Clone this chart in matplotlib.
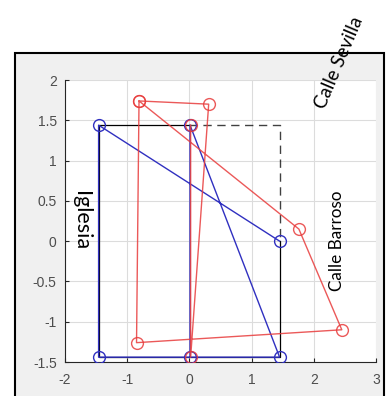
import matplotlib
matplotlib.use("Agg")
import matplotlib.pyplot as plt
from matplotlib.patches import Rectangle

plt.rcParams["axes.unicode_minus"] = False

# square outline (black): solid part and dashed corner
box_solid_x = [1.45, 1.45, -1.45, -1.45, 0.0]
box_solid_y = [0.0, -1.44, -1.44, 1.44, 1.44]
box_dash_x = [0.0, 1.45, 1.45]
box_dash_y = [1.44, 1.44, 0.0]

# blue path
blue_x = [1.45, -1.46, -1.46, 1.45, 0.01, 0.01]
blue_y = [0.0, 1.44, -1.44, -1.44, 1.44, -1.44]

# red path
red_x = [0.02, 0.02, 0.31, -0.81, 1.76, 2.45, -0.85, -0.81]
red_y = [1.44, -1.44, 1.70, 1.74, 0.15, -1.10, -1.26, 1.74]

xticks = [-2, -1, 0, 1, 2, 3]
yticks = [-1.5, -1, -0.5, 0, 0.5, 1, 1.5, 2]
ytick_labels = ["-1.5", "-1", "-0.5", "0", "0.5", "1", "1.5", "2"]

fig = plt.figure(figsize=(3.86, 3.96), dpi=100)
fig.patch.set_facecolor("white")

# grey figure panel with black frame
panel = Rectangle((15 / 386, -0.05), 369 / 386, 1 - 53 / 396 + 0.05,
                  transform=fig.transFigure, facecolor="#f0f0f0",
                  edgecolor="black", linewidth=1.5, zorder=-5)
fig.patches.append(panel)

ax = fig.add_axes([65 / 386, 1 - 362 / 396, 311 / 386, 282 / 396])
ax.set_zorder(1)
ax.set_facecolor("white")

ax.plot(box_solid_x, box_solid_y, color="black", lw=0.9, zorder=2)
ax.plot(box_dash_x, box_dash_y, color="black", lw=1.0, ls=(0, (6, 4)), alpha=0.75, zorder=2)
ax.plot(blue_x, blue_y, color="#3030c0", lw=1.0, marker="o", ms=8.5,
        mfc="none", mew=1.0, zorder=3)
ax.plot(red_x, red_y, color="#e83c3c", lw=1.0, marker="o", ms=8.5,
        mfc="none", mew=1.0, alpha=0.85, zorder=4)

ax.set_xlim(-2, 3)
ax.set_ylim(-1.5, 2)
ax.set_xticks(xticks)
ax.set_yticks(yticks)
ax.set_yticklabels(ytick_labels)
ax.grid(True, color="#dcdcdc", lw=0.8)
ax.set_axisbelow(True)
for s in ["top", "right"]:
    ax.spines[s].set_visible(False)
for s in ["left", "bottom"]:
    ax.spines[s].set_color("#262626")
    ax.spines[s].set_linewidth(0.8)
ax.tick_params(direction="in", length=3, colors="#262626", labelcolor="#4d4d4d",
               labelsize=10, top=False, right=False)
ax.tick_params(axis="x", pad=8)
ax.tick_params(axis="y", pad=6)
for lab in ax.get_xticklabels() + ax.get_yticklabels():
    lab.set_family("Liberation Sans")

ax.text(-1.74, 0.26, "Iglesia", rotation=-90, fontsize=15.5, family="Lato",
        ha="center", va="center")
ax.text(2.37, 0.01, "Calle Barroso", rotation=90, fontsize=12.3, family="Lato",
        ha="center", va="center")
ax.text(2.40, 2.22, "Calle Sevilla", rotation=67, fontsize=13.5, family="Lato",
        ha="center", va="center", clip_on=False)

fig.savefig("out.png", dpi=100)
